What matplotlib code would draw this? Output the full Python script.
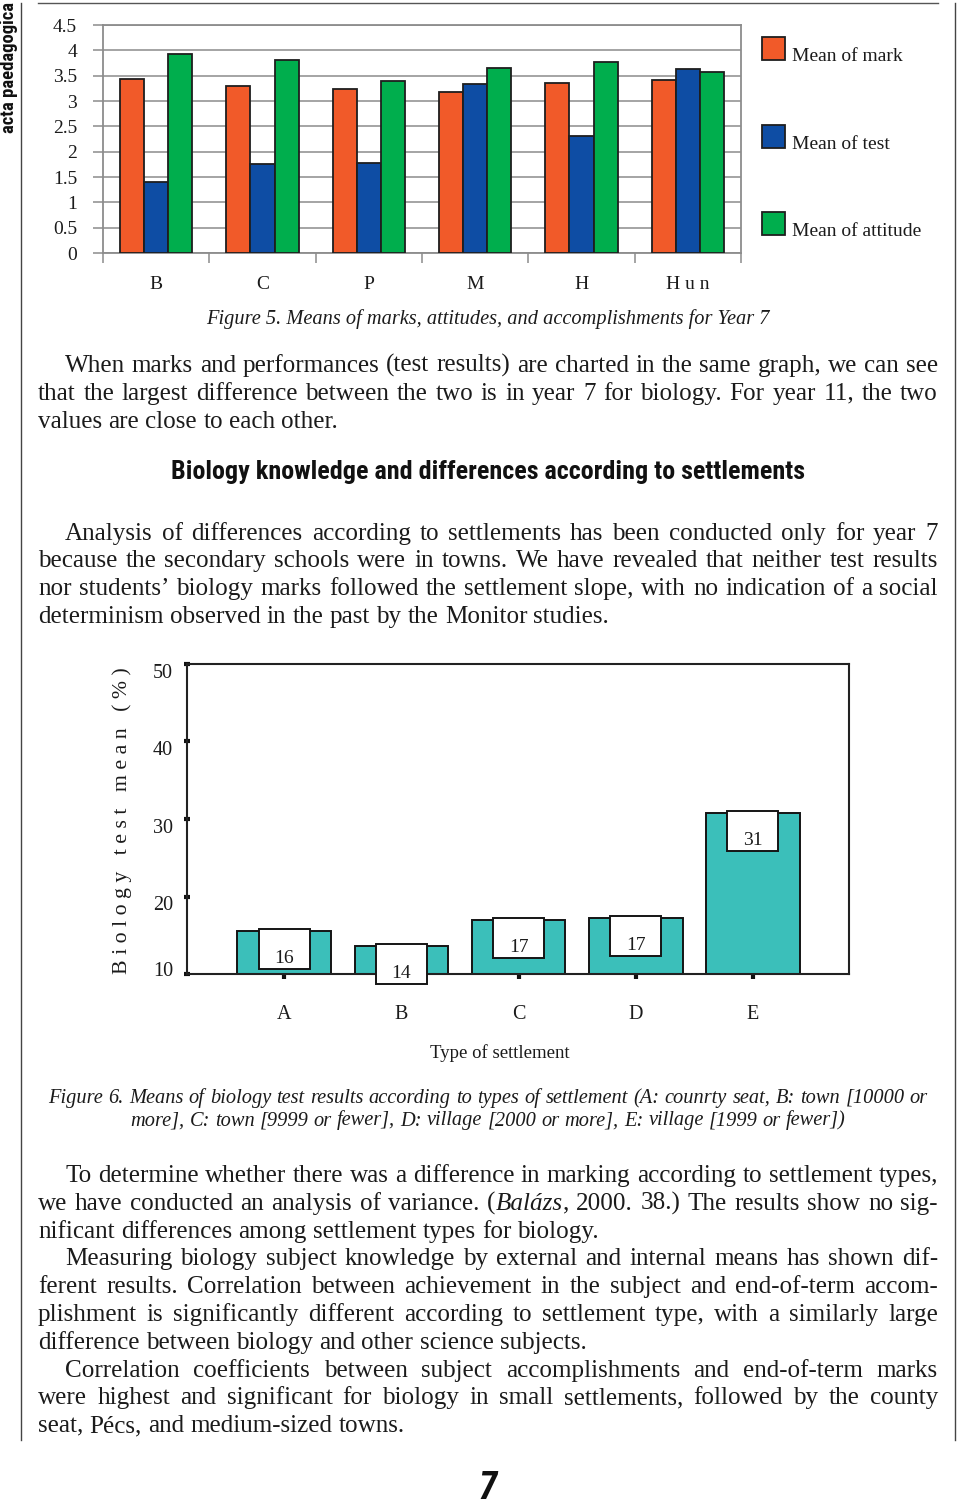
import matplotlib
matplotlib.use('Agg')
import matplotlib.pyplot as plt
from matplotlib import font_manager as fm
from matplotlib.patches import Rectangle
import matplotlib.transforms as mtransforms
import numpy as np

# ------------------------------------------------------------------ data
subjects = ['B', 'C', 'P', 'M', 'H', 'H u n']
mean_mark = [3.43, 3.30, 3.23, 3.17, 3.35, 3.41]
mean_test = [1.41, 1.76, 1.78, 3.34, 2.31, 3.64]
mean_attitude = [3.93, 3.80, 3.39, 3.66, 3.76, 3.58]
series_labels = ['Mean of mark', 'Mean of test', 'Mean of attitude']
top_yticks = [0, 0.5, 1, 1.5, 2, 2.5, 3, 3.5, 4, 4.5]
top_yticklabels = ['0', '0.5', '1', '1.5', '2', '2.5', '3', '3.5', '4', '4.5']

settlements = ['A', 'B', 'C', 'D', 'E']
settlement_means = [15.6, 13.6, 17.0, 17.2, 30.8]
bottom_yticks = [10, 20, 30, 40, 50]

caption5 = 'Figure 5. Means of marks, attitudes, and accomplishments for Year 7'
caption6 = ['Figure 6. Means of biology test results according to types of settlement (A: counrty seat, B: town [10000 or',
            'more], C: town [9999 or fewer], D: village [2000 or more], E: village [1999 or fewer])']
heading = 'Biology knowledge and differences according to settlements'
para1 = ['When marks and performances (test results) are charted in the same graph, we can see',
         'that the largest difference between the two is in year 7 for biology. For year 11, the two',
         'values are close to each other.']
para2 = ['Analysis of differences according to settlements has been conducted only for year 7',
         'because the secondary schools were in towns. We have revealed that neither test results',
         'nor students\u2019 biology marks followed the settlement slope, with no indication of a social',
         'determinism observed in the past by the Monitor studies.']
para3 = ['To determine whether there was a difference in marking according to settlement types,',
         'we have conducted an analysis of variance. (*Bal\u00e1zs*, 2000. 38.) The results show no sig-',
         'nificant differences among settlement types for biology.',
         'Measuring biology subject knowledge by external and internal means has shown dif-',
         'ferent results. Correlation between achievement in the subject and end-of-term accom-',
         'plishment is significantly different according to settlement type, with a similarly large',
         'difference between biology and other science subjects.',
         'Correlation coefficients between subject accomplishments and end-of-term marks',
         'were highest and significant for biology in small settlements, followed by the county',
         'seat, P\u00e9cs, and medium-sized towns.']
# (indent, justify) flags per line
para1_flags = [(True, True), (False, True), (False, False)]
para2_flags = [(True, True), (False, True), (False, True), (False, False)]
para3_flags = [(True, True), (False, True), (False, False),
               (True, True), (False, True), (False, True), (False, False),
               (True, True), (False, True), (False, False)]

# ------------------------------------------------------------------ fonts
names = {f.name for f in fm.fontManager.ttflist}


def pick(cands, default):
    for c in cands:
        if c in names:
            return c
    return default


SERIF = pick(['Liberation Serif', 'DejaVu Serif'], 'serif')
COND = pick(['Roboto Condensed', 'Liberation Sans Narrow', 'DejaVu Sans Condensed',
             'Open Sans Condensed'], 'DejaVu Sans')
plt.rcParams['font.family'] = SERIF
TXT = '#1b1b1b'

W, H = 960, 1506
fig = plt.figure(figsize=(W / 100, H / 100), dpi=100)
fig.patch.set_facecolor('white')
R = fig.canvas.get_renderer()

page = fig.add_axes([0, 0, 1, 1])
page.set_xlim(0, W)
page.set_ylim(H, 0)
page.axis('off')


def wid(t):
    return t.get_window_extent(R).width


def hei(t):
    return t.get_window_extent(R).height


def fit(t, target, vertical=False):
    t.set_fontsize(10)
    w = hei(t) if vertical else wid(t)
    t.set_fontsize(10 * target / w)
    return 10 * target / w


# ------------------------------------------------------------------ page decorations
page.plot([38, 938], [2.5, 2.5], color='#555555', lw=1.0)
page.plot([20.5, 20.5], [3, 1440], color='#444444', lw=1.0)
page.plot([955, 955], [3, 1440], color='#444444', lw=1.0)
t = page.text(9.5, 67, 'acta paedagogica', rotation=90, ha='center', va='center',
              family=COND, weight='bold', fontstretch='condensed', color='#111111')
fit(t, 131, vertical=True)
t = page.text(488, 1499, '7', ha='center', va='baseline', family=COND, weight='bold',
              style='italic', fontstretch='condensed', fontsize=27, color='#111111')


# ------------------------------------------------------------------ justified text
def space_w(size, style='normal'):
    a = page.text(0, -100, 'x x', fontsize=size, family=SERIF, style=style)
    b = page.text(0, -100, 'xx', fontsize=size, family=SERIF, style=style)
    s = wid(a) - wid(b)
    a.remove()
    b.remove()
    return s


def natural(line, size, style='normal'):
    a = page.text(0, -100, line.replace('*', ''), fontsize=size, family=SERIF, style=style)
    w = wid(a)
    a.remove()
    return w


def draw_line(line, x0, x1, y, size, justify, style='normal', align='left'):
    words = line.split(' ')
    items = []
    for w in words:
        segs = []
        parts = w.split('*')
        for k, p in enumerate(parts):
            if not p:
                continue
            st = 'italic' if (k % 2 == 1 or style == 'italic') else 'normal'
            tt = page.text(0, y, p, fontsize=size, family=SERIF, style=st,
                           va='baseline', ha='left', color=TXT)
            segs.append((tt, wid(tt)))
        items.append(segs)
    wsum = [sum(w for _, w in segs) for segs in items]
    if justify and len(items) > 1:
        gap = (x1 - x0 - sum(wsum)) / (len(items) - 1)
    else:
        gap = space_w(size, style)
    total = sum(wsum) + gap * (len(items) - 1)
    x = (x0 + x1) / 2 - total / 2 if align == 'center' else x0
    for segs, ws in zip(items, wsum):
        xx = x
        for tt, w in segs:
            tt.set_x(xx)
            xx += w
        x += ws + gap


LM, RM, IND = 38, 938, 65
fits = []
for lines, flags in [(para1, para1_flags), (para2, para2_flags), (para3, para3_flags)]:
    for ln, (ind, just) in zip(lines, flags):
        if just:
            target = RM - (IND if ind else LM)
            fits.append(10 * target / natural(ln, 10))
BODY = min(min(fits) * 0.998, 18.5)


def draw_para(lines, flags, y0, lead=27.8):
    for i, (ln, (ind, just)) in enumerate(zip(lines, flags)):
        draw_line(ln, IND if ind else LM, RM, y0 + i * lead, BODY, just)


draw_para(para1, para1_flags, 372)
draw_para(para2, para2_flags, 539.5)
draw_para(para3, para3_flags, 1182)

# heading
t = page.text(488, 479, heading, ha='center', va='baseline', family=COND, weight='heavy',
              fontstretch='condensed', color='#111111')
fit(t, 636)

# captions
c5 = page.text(488, 324, caption5, ha='center', va='baseline', style='italic', color=TXT)
fit(c5, 565)
cap_size = 10 * 880 / natural(caption6[0], 10, 'italic') * 0.998
draw_line(caption6[0], 48, 928, 1103, cap_size, True, style='italic')
draw_line(caption6[1], 48, 928, 1125.5, cap_size, False, style='italic', align='center')

# ------------------------------------------------------------------ top chart
ax1 = fig.add_axes([103 / W, 1 - 253 / H, 638 / W, 228 / H])
x = np.arange(len(subjects))
bw = 0.226
colors = ['#F15A29', '#0E4DA4', '#00AE4D']
for k, (vals, c) in enumerate(zip([mean_mark, mean_test, mean_attitude], colors)):
    ax1.bar(x + (k - 1) * bw, vals, bw, color=c, edgecolor='#1e1e1e', linewidth=1.3, zorder=3)
ax1.set_xlim(-0.5, len(subjects) - 0.5)
ax1.set_ylim(0, 4.5)
ax1.set_yticks(top_yticks)
ax1.set_yticklabels(top_yticklabels)
ax1.yaxis.grid(True, color='#8c8c8c', lw=1.1)
ax1.set_axisbelow(True)
ax1.set_xticks(x)
ax1.set_xticklabels(subjects)
ax1.set_xticks(np.arange(-0.5, len(subjects), 1), minor=True)
ax1.tick_params(axis='x', which='major', length=0, pad=16.5, labelsize=14, labelcolor=TXT)
ax1.tick_params(axis='x', which='minor', length=7.2, width=1.1, color='#8c8c8c', direction='out')
ax1.tick_params(axis='y', length=7.2, width=1.1, color='#8c8c8c', pad=11.5, labelsize=14,
                labelcolor=TXT)
for s in ax1.spines.values():
    s.set_color('#8c8c8c')
    s.set_linewidth(1.3)

# legend (laid out like the original: swatch with the label's baseline at its bottom)
for k, (c, lab) in enumerate(zip(colors, series_labels)):
    ytop = 37 + k * 87.7
    page.add_patch(Rectangle((762, ytop), 23, 23, facecolor=c, edgecolor='#1e1e1e', lw=1.3))
    page.text(792, ytop + 24, lab, ha='left', va='baseline', fontsize=14, color=TXT)

# ------------------------------------------------------------------ bottom chart
ax2 = fig.add_axes([187 / W, 1 - 974 / H, 662 / W, 310 / H])
xs = np.arange(len(settlements))
ax2.bar(xs, settlement_means, 0.80, color='#3BBFBA', edgecolor='#141414', linewidth=1.4, zorder=2)
ax2.set_xlim(-0.83, 4.82)
ax2.set_ylim(10, 50)
ax2.set_yticks(bottom_yticks)
ax2.set_xticks(xs)
ax2.set_xticklabels(settlements)
ax2.tick_params(axis='y', direction='inout', length=4, width=3, color='#111111', pad=8,
                labelsize=14.5, labelcolor=TXT)
ax2.tick_params(axis='x', direction='out', length=3.5, width=3, color='#111111', pad=19,
                labelsize=14.5, labelcolor=TXT)
for s in ax2.spines.values():
    s.set_color('#222222')
    s.set_linewidth(1.5)
# y labels sit a little below their ticks in the original (the bottom one a little above)
for v, lab in zip(bottom_yticks, ax2.get_yticklabels()):
    dy = 5 if v == bottom_yticks[0] else -7
    lab.set_transform(lab.get_transform() +
                      mtransforms.ScaledTranslation(0, dy / 100, fig.dpi_scale_trans))

pos = ax2.get_position()
px_x = pos.width * W / (4.82 + 0.83)
px_y = pos.height * H / 40.0
box_w, box_h = 51 / px_x, 40 / px_y
for i, v in enumerate(settlement_means):
    top = v + 2 / px_y
    ax2.add_patch(Rectangle((i - box_w / 2, top - box_h), box_w, box_h, facecolor='white',
                            edgecolor='#141414', linewidth=1.4, zorder=5, clip_on=False))
    ax2.text(i, top - 34 / px_y, f'{round(v)}', ha='center', va='baseline', fontsize=14,
             color=TXT, zorder=6, clip_on=False)

page.text(500, 1053, 'Type of settlement', ha='center', va='center', fontsize=13.5, color=TXT)
yl = page.text(122, 821, 'B i o l o g y   t e s t   m e a n   ( % )', rotation=90,
               ha='center', va='center', color=TXT)
fit(yl, 307, vertical=True)

fig.savefig('out.png', dpi=100)
